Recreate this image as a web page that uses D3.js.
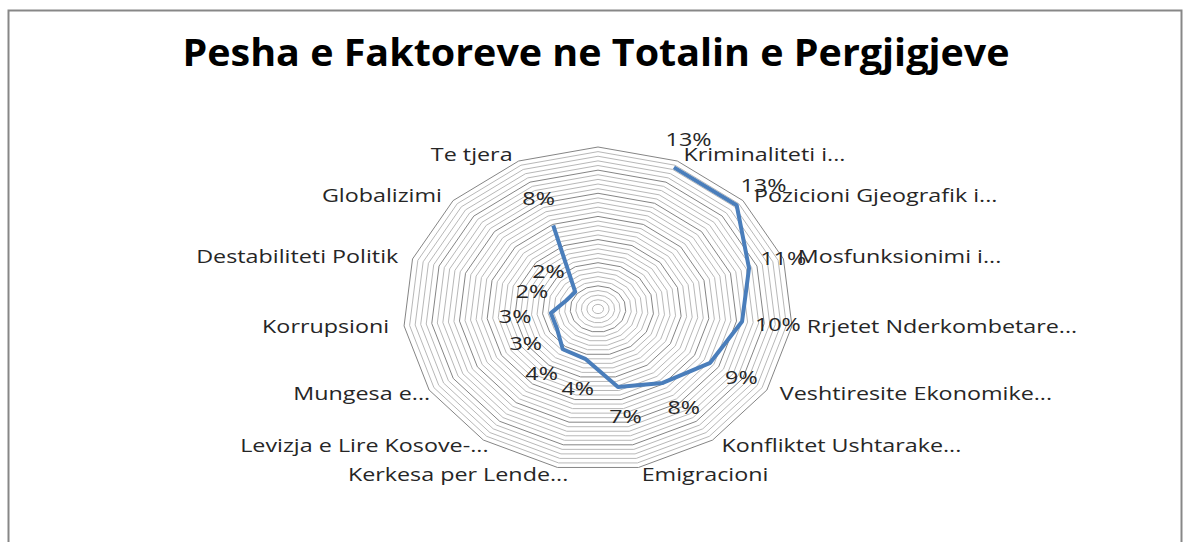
<!DOCTYPE html>
<html>
<head>
<meta charset="utf-8">
<script src="https://cdn.jsdelivr.net/npm/d3@7"></script>
<style>
  body { margin: 0; background: #fff; }
  text { font-family: "Open Sans", sans-serif; fill: #262626; }
</style>
</head>
<body>
<div id="chart"></div>
<script>
// categories, first one is the empty spoke at 12 o'clock
const categories = ["", "Kriminaliteti i...", "Pozicioni Gjeografik i...", "Mosfunksionimi i...",
  "Rrjetet Nderkombetare...", "Veshtiresite Ekonomike...", "Konfliktet Ushtarake...", "Emigracioni",
  "Kerkesa per Lende...", "Levizja e Lire Kosove-...", "Mungesa e...", "Korrupsioni",
  "Destabiliteti Politik", "Globalizimi", "Te tjera"];
const values = [null, 0.134, 0.134, 0.114, 0.104, 0.093, 0.079, 0.069,
  0.044, 0.043, 0.034, 0.034, 0.024, 0.022, 0.079];
const gridTicks = d3.range(1, 36).map(i => +(i * 0.004).toFixed(3)); // 0.004 .. 0.14
const title = "Pesha e Faktoreve ne Totalin e Pergjigjeve";

const width = 1186, height = 542;
const cx = 598, cy = 309, RX = 195, RY = 162;
const sx = 1.26; // the original is stretched sideways

const svg = d3.select("#chart").append("svg")
  .attr("width", width).attr("height", height);

// frame
svg.append("rect")
  .attr("x", 8.5).attr("y", 10.5).attr("width", 1173).attr("height", 600)
  .attr("fill", "none").attr("stroke", "#878787").attr("stroke-width", 2);

svg.append("text")
  .attr("x", 596).attr("y", 66)
  .attr("text-anchor", "middle")
  .attr("font-size", 38).attr("font-weight", "bold")
  .attr("fill", "#000")
  .style("fill", "#000")
  .attr("textLength", 827).attr("lengthAdjust", "spacingAndGlyphs")
  .text(title);

const n = categories.length;
const angle = d3.scaleLinear().domain([0, n]).range([0, 2 * Math.PI]);
const r = d3.scaleLinear().domain([0, 0.14]).range([0, 1]);

function pt(i, v) {
  const a = angle(i);
  return [cx + RX * r(v) * Math.sin(a), cy - RY * r(v) * Math.cos(a)];
}

// grid rings
const ring = d3.line();
svg.append("g").selectAll("path")
  .data(gridTicks)
  .enter().append("path")
    .attr("d", t => ring(d3.range(n).map(i => pt(i, t))) + "Z")
    .attr("fill", "none")
    .attr("stroke", (t, k) => (k + 1) % 5 == 0 ? "#858585" : "#b8b8b8")
    .attr("stroke-width", 1);

// series line (gap at the empty category)
const line = d3.line()
  .defined(d => d.v != null)
  .x(d => pt(d.i, d.v)[0])
  .y(d => pt(d.i, d.v)[1]);
const rows = categories.map((c, i) => ({ i: i, c: c, v: values[i] }));
svg.append("path")
  .datum(rows)
  .attr("d", line)
  .attr("fill", "none")
  .attr("stroke", "#4a7ebb")
  .attr("stroke-width", 4)
  .attr("stroke-linejoin", "round");

// data labels
const fmt = d3.format(".0%");
svg.append("g").selectAll("text")
  .data(rows.filter(d => d.v != null))
  .enter().append("text")
    .attr("transform", d => {
      const p = pt(d.i, d.v), a = angle(d.i);
      return "translate(" + (p[0] + 36 * Math.sin(a)) + "," + (p[1] - 30 * Math.cos(a)) + ") scale(" + sx + ",1)";
    })
    .attr("text-anchor", "middle")
    .attr("dy", "0.35em")
    .attr("font-size", 18.5)
    .text(d => fmt(d.v));

// category labels
svg.append("g").selectAll("text")
  .data(rows.filter(d => d.c != ""))
  .enter().append("text")
    .attr("transform", d => {
      const p = pt(d.i, 0.14), a = angle(d.i), s = Math.sin(a);
      let x = p[0] + 15 * s;
      if (s < 0 && Math.cos(a) < 0 && d.c.endsWith("...")) x += 14;
      return "translate(" + x + "," + (p[1] - 7 * Math.cos(a)) + ") scale(" + sx + ",1)";
    })
    .attr("text-anchor", d => Math.sin(angle(d.i)) > 0 ? "start" : "end")
    .attr("dy", "0.35em")
    .attr("font-size", 18.5)
    .text(d => d.c);
</script>
</body>
</html>
